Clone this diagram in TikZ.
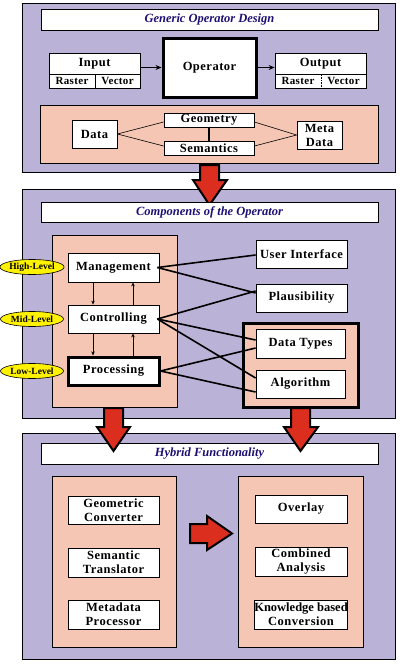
\documentclass[tikz,border=0pt]{standalone}
\usepackage{fontspec}
\setmainfont{Liberation Serif}
\usetikzlibrary{shapes.geometric,arrows.meta,calc}
\definecolor{panelc}{RGB}{187,179,215}
\definecolor{salmon}{RGB}{245,198,179}
\definecolor{titlec}{RGB}{30,16,115}
\definecolor{redc}{RGB}{220,46,30}
\begin{document}
\begin{tikzpicture}[x=1pt,y=-1pt,
  panel/.style={draw=black, line width=1pt, fill=panelc, inner sep=0, minimum width=373, minimum height=#1},
  titlebox/.style={draw=black, line width=0.8pt, fill=white, inner sep=0, minimum width=337, minimum height=#1,
     font=\bfseries\itshape\fontsize{12.5}{14}\selectfont, text=titlec},
  sbox/.style={draw=black, line width=0.8pt, fill=salmon, inner sep=0},
  wbox/.style={draw=black, line width=0.8pt, fill=white, inner sep=0, align=center,
     font=\bfseries\fontsize{12.5}{14}\selectfont\addfontfeature{LetterSpace=4}},
  small/.style={font=\bfseries\fontsize{11}{12}\selectfont\addfontfeature{LetterSpace=3}},
  thick3/.style={line width=3pt},
  lvl/.style={ellipse, draw=black, line width=0.6pt, fill=yellow, inner sep=0,
     minimum width=63, minimum height=15, font=\bfseries\fontsize{9.5}{10}\selectfont},
  link/.style={draw=black, line width=1.6pt},
  thin/.style={draw=black, line width=0.6pt},
  flow/.style={draw=black, line width=0.8pt, -{Stealth[length=6pt,width=5pt]}},
  updown/.style={draw=black, line width=0.6pt, -{Stealth[length=4pt,width=3.5pt]}},
  redarrow/.style={fill=redc, draw=black, line width=2pt, line join=miter}
]
\useasboundingbox (0,0) rectangle (400,665);

% ---------- Panel 1 ----------
\node[panel=169] (p1) at (208.5,87.5) {};
\node[titlebox=21] (t1) at (209.5,19.5) {Generic Operator Design};
\node[wbox, minimum width=91, minimum height=21] (inup) at (94.5,63.5) {Input};
\node[wbox, small, minimum width=46, minimum height=14] (inraster) at (72,81) {Raster};
\node[wbox, small, minimum width=45, minimum height=14] (invector) at (117.5,81) {Vector};
\node[wbox, thick3, minimum width=93, minimum height=59] (op) at (209.5,67.5) {Operator};
\node[wbox, minimum width=91, minimum height=21] (outup) at (320.5,63.5) {Output};
\node[wbox, minimum width=91, minimum height=14] (outlow) at (320.5,81) {};
\node[small, inner sep=0] (outraster) at (298,81) {Raster};
\node[small, inner sep=0] (outvector) at (343.5,81) {Vector};
\draw[densely dotted, line width=0.6pt] ([xshift=0.5pt]outlow.north) -- ([xshift=0.5pt]outlow.south);
\draw[flow] (inup.east |- op.west) -- (op.west);
\draw[flow] (op.east) -- (outup.west |- op.east);

\node[sbox, minimum width=338, minimum height=58] (s1) at (209,134) {};
\node[wbox, minimum width=45, minimum height=28] (data) at (94.5,134) {Data};
\node[wbox, minimum width=90, minimum height=14] (geom) at (209,120) {Geometry};
\node[wbox, minimum width=90, minimum height=14] (sem) at (209,148) {Semantics};
\node[wbox, minimum width=45, minimum height=28] (meta) at (319.5,135) {Meta\\Data};
\draw[thin] (data.east) -- ([yshift=-2pt]geom.west);
\draw[thin] (data.east) -- ([yshift=2pt]sem.west);
\draw[thin] (meta.west) -- ([yshift=-2pt]geom.east);
\draw[thin] (meta.west) -- ([yshift=2pt]sem.east);
\draw[line width=2.5pt] (geom.south) -- (sem.north);

% ---------- Panel 2 ----------
\node[panel=229] (p2) at (208.5,303.5) {};
\draw[redarrow] (200,165) -- (219,165) -- (219,180) -- (227,180) -- (209.5,205) -- (193,180) -- (200,180) -- cycle;
\node[titlebox=20] (t2) at (209.5,212) {Components of the Operator};
\node[sbox, minimum width=125, minimum height=172] (s2) at (114.5,321) {};
\node[wbox, minimum width=91, minimum height=29] (mgmt) at (113.5,267.5) {Management};
\node[wbox, minimum width=91, minimum height=28] (ctrl) at (113.5,319) {Controlling};
\node[wbox, thick3, minimum width=91, minimum height=28] (proc) at (113.5,371) {Processing};
\node[lvl] (high) at (32,267) {High-Level};
\node[lvl] (mid) at (32,319) {Mid-Level};
\node[lvl] (low) at (32,371) {Low-Level};
\draw[updown] ([xshift=-20.5pt]mgmt.south) -- ([xshift=-20.5pt]ctrl.north);
\draw[updown] ([xshift=19.5pt]ctrl.north) -- ([xshift=19.5pt]mgmt.south);
\draw[updown] ([xshift=-20.5pt]ctrl.south) -- ([xshift=-20.5pt]proc.north);
\draw[updown] ([xshift=19.5pt]proc.north) -- ([xshift=19.5pt]ctrl.south);

\node[wbox, minimum width=91, minimum height=28] (ui) at (301.5,254) {User Interface};
\node[wbox, minimum width=91, minimum height=28] (plaus) at (301.5,298) {Plausibility};
\node[sbox, thick3, minimum width=115, minimum height=84] (cont) at (300.5,365) {};
\node[wbox, minimum width=89, minimum height=29] (dtypes) at (300.5,343.5) {Data Types};
\node[wbox, minimum width=89, minimum height=28] (algo) at (300.5,384) {Algorithm};

\draw[link] ([xshift=-2pt]mgmt.east) -- ([yshift=-1pt]ui.west);
\draw[link] ([xshift=-2pt]mgmt.east) -- ([yshift=5pt]plaus.west);
\draw[link] ([xshift=-2pt]ctrl.east) -- ([yshift=7pt]plaus.west);
\draw[link] ([xshift=-2pt]ctrl.east) -- ([yshift=3.5pt]dtypes.west);
\draw[link] ([xshift=-2pt]ctrl.east) -- ([yshift=6pt]algo.west);
\draw[link] (proc.east) -- ([yshift=-4.5pt]dtypes.west);
\draw[link] (proc.east) -- ([yshift=-8pt]algo.west);

% ---------- Panel 3 ----------
\node[panel=226] (p3) at (208.5,546) {};
\node[titlebox=21] (t3) at (209.5,453.5) {Hybrid Functionality};
\draw[redarrow] (104,408) -- (123,408) -- (123,427) -- (130,427) -- (113.5,451) -- (97,427) -- (104,427) -- cycle;
\draw[redarrow] (291,408) -- (310,408) -- (310,427) -- (318,427) -- (300.5,451) -- (284,427) -- (291,427) -- cycle;
\node[sbox, minimum width=124, minimum height=171] (s3l) at (114,561.5) {};
\node[sbox, minimum width=125, minimum height=171] (s3r) at (300.5,561.5) {};
\node[wbox, minimum width=91, minimum height=28] (geoconv) at (113.5,510) {Geometric\\Converter};
\node[wbox, minimum width=91, minimum height=29] (semtrans) at (113.5,562.5) {Semantic\\Translator};
\node[wbox, minimum width=91, minimum height=29] (metaproc) at (113.5,614.5) {Metadata\\Processor};
\node[wbox, minimum width=92, minimum height=28] (overlay) at (301,509) {Overlay};
\node[wbox, minimum width=92, minimum height=29] (comb) at (301,561.5) {Combined\\Analysis};
\node[wbox, minimum width=92, minimum height=29] (know) at (301,614.5) {{\addfontfeature{LetterSpace=0}Knowledge based}\\Conversion};
\draw[redarrow] (190,524) -- (207,524) -- (207,516) -- (232,533.5) -- (207,550) -- (207,543) -- (190,543) -- cycle;
\end{tikzpicture}
\end{document}
